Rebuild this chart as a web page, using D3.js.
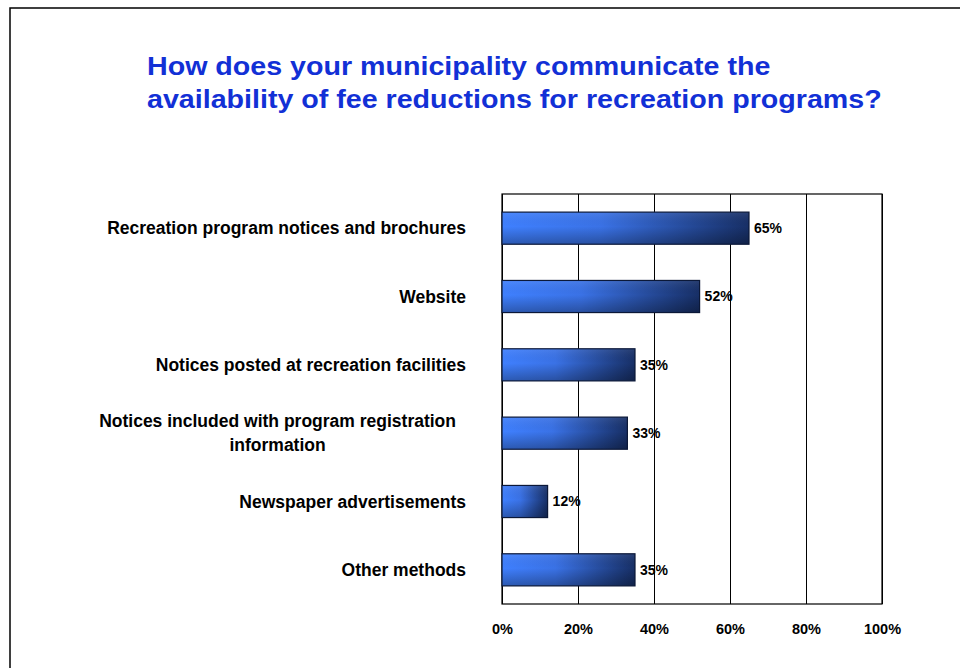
<!DOCTYPE html>
<html>
<head>
<meta charset="utf-8">
<script src="https://cdn.jsdelivr.net/npm/d3@7/dist/d3.min.js"></script>
<style>
  html, body { margin: 0; padding: 0; background: #fff; }
  svg { display: block; font-family: "Liberation Sans", Arial, sans-serif; }
</style>
</head>
<body>
<svg id="chart" width="960" height="668"></svg>
<script>
// Survey responses: share of municipalities using each method
const titleLines = [
  "How does your municipality communicate the",
  "availability of fee reductions for recreation programs?"
];
const categories = [
  ["Recreation program notices and brochures"],
  ["Website"],
  ["Notices posted at recreation facilities"],
  ["Notices included with program registration", "information"],
  ["Newspaper advertisements"],
  ["Other methods"]
];
const values = [65, 52, 35, 33, 12, 35];
const tickValues = [0, 20, 40, 60, 80, 100];

const svg = d3.select("#chart");
const margin = { left: 502, right: 882, top: 194, bottom: 604 };

// Slide frame
svg.append("rect")
  .attr("x", 10).attr("y", 8)
  .attr("width", 1200).attr("height", 1200)
  .attr("fill", "none").attr("stroke", "#000").attr("stroke-width", 1.5);

// Title (slightly widened lettering)
svg.append("g")
  .attr("transform", "translate(147,0) scale(1.08,1)")
  .selectAll("text")
  .data(titleLines)
  .join("text")
  .attr("x", 0)
  .attr("y", (d, i) => 75 + i * 33)
  .attr("fill", "#1230d6")
  .attr("font-size", 26.5)
  .attr("font-weight", "bold")
  .text(d => d);

const x = d3.scaleLinear().domain([0, 100]).range([margin.left, margin.right]);
const y = d3.scaleBand()
  .domain(d3.range(categories.length))
  .range([margin.top, margin.bottom])
  .paddingInner(0.53)
  .paddingOuter(0.265);

// Gradients for the bars
const defs = svg.append("defs");
const hGrad = defs.append("linearGradient").attr("id", "barH")
  .attr("x1", "0").attr("y1", "0").attr("x2", "1").attr("y2", "0");
hGrad.append("stop").attr("offset", "0").attr("stop-color", "#3f80ff");
hGrad.append("stop").attr("offset", "0.4").attr("stop-color", "#3a72e6");
hGrad.append("stop").attr("offset", "1").attr("stop-color", "#172f66");
const vGrad = defs.append("linearGradient").attr("id", "barV")
  .attr("x1", "0").attr("y1", "0").attr("x2", "0").attr("y2", "1");
vGrad.append("stop").attr("offset", "0").attr("stop-color", "#ffffff").attr("stop-opacity", 0.08);
vGrad.append("stop").attr("offset", "0.45").attr("stop-color", "#000000").attr("stop-opacity", 0);
vGrad.append("stop").attr("offset", "1").attr("stop-color", "#000000").attr("stop-opacity", 0.3);

// Gridlines and plot frame
svg.append("g")
  .attr("transform", `translate(0,${margin.bottom})`)
  .call(d3.axisBottom(x).tickValues(tickValues).tickSize(0).tickFormat(""))
  .call(g => g.select(".domain").remove())
  .call(g => g.selectAll(".tick line")
    .attr("y2", -(margin.bottom - margin.top))
    .attr("stroke", "#000").attr("stroke-width", 1));
svg.append("rect")
  .attr("x", margin.left).attr("y", margin.top)
  .attr("width", margin.right - margin.left).attr("height", margin.bottom - margin.top)
  .attr("fill", "none").attr("stroke", "#000").attr("stroke-width", 1.2);

// Tick labels
svg.append("g")
  .attr("transform", `translate(0,${margin.bottom})`)
  .call(d3.axisBottom(x).tickValues(tickValues).tickSize(0).tickPadding(20).tickFormat(d => d + "%"))
  .call(g => g.select(".domain").remove())
  .call(g => g.selectAll("text")
    .attr("font-family", "Liberation Sans, Arial, sans-serif")
    .attr("font-size", 14.5).attr("font-weight", "bold").attr("fill", "#000"));

// Bars
const bars = svg.append("g").selectAll("g")
  .data(values)
  .join("g");
bars.append("rect")
  .attr("x", x(0))
  .attr("y", (d, i) => y(i))
  .attr("width", d => x(d) - x(0))
  .attr("height", y.bandwidth())
  .attr("fill", "url(#barH)");
bars.append("rect")
  .attr("x", x(0))
  .attr("y", (d, i) => y(i))
  .attr("width", d => x(d) - x(0))
  .attr("height", y.bandwidth())
  .attr("fill", "url(#barV)")
  .attr("stroke", "#0b1838").attr("stroke-width", 1.2);

// Value labels
bars.append("text")
  .attr("x", d => x(d) + 5)
  .attr("y", (d, i) => y(i) + y.bandwidth() / 2)
  .attr("dy", "0.35em")
  .attr("font-size", 14)
  .attr("font-weight", "bold")
  .text(d => d + "%");

// Category labels
const labelRight = 466;
svg.append("g").selectAll("text")
  .data(categories)
  .join("text")
  .attr("font-size", 17.5)
  .attr("font-weight", "bold")
  .attr("fill", "#000")
  .each(function (lines, i) {
    const t = d3.select(this);
    const cy = y(i) + y.bandwidth() / 2;
    const lh = 24;
    const y0 = cy - (lines.length - 1) * lh / 2;
    if (lines.length === 1) {
      t.attr("text-anchor", "end").attr("x", labelRight).attr("y", y0).attr("dy", "0.35em").text(lines[0]);
    } else {
      // multi-line labels are centred on the block's midline
      t.attr("text-anchor", "middle");
      lines.forEach((ln, k) => {
        t.append("tspan").attr("y", y0 + k * lh).attr("dy", "0.35em").text(ln);
      });
      const w = d3.max(t.selectAll("tspan").nodes(), n => n.getComputedTextLength());
      t.selectAll("tspan").attr("x", labelRight - 10 - w / 2);
    }
  });
</script>
</body>
</html>
